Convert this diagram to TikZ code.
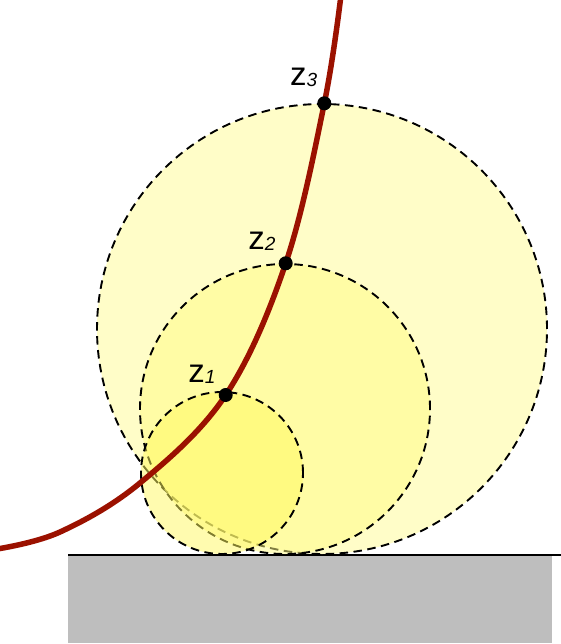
\documentclass[tikz,border=0pt]{standalone}
\usepackage{fontspec}
\newfontfamily\labelfont{Liberation Sans}
\usetikzlibrary{positioning}
\definecolor{curvered}{RGB}{155,17,0}
\definecolor{bigfill}{RGB}{255,251,145}
\definecolor{midfill}{RGB}{255,251,130}
\definecolor{smallfill}{RGB}{255,248,95}
\definecolor{groundgray}{RGB}{190,190,190}
\tikzset{disc/.style={circle, draw, dash pattern=on 8.5pt off 5.5pt, line width=1.9pt, inner sep=0pt, outer sep=0pt, fill opacity=0.5},
  dot/.style={circle, fill, inner sep=0pt, minimum size=14pt},
  zlabel/.style={anchor=base east, inner sep=0pt, font=\labelfont}}
\newcommand{\zname}[1]{{\fontsize{33}{33}\selectfont z}\raisebox{-1pt}{\fontsize{19}{19}\selectfont\itshape #1}}

\begin{document}
\begin{tikzpicture}[x=1pt, y=-1pt]
  \useasboundingbox (0,0) rectangle (561,644);
%% ground
  \fill[groundgray] (68,556) rectangle (552,643);
  \draw[line width=1.8pt] (68,555) -- (561,555);
%% circles
  \node[disc, fill=bigfill, minimum size=450pt] (big) at (322,329) {};
  \node[disc, fill=midfill, minimum size=290pt] (mid) at (285,409) {};
  \node[disc, fill=smallfill, minimum size=162pt] (small) at (222,473) {};
%% points on the curve
  \coordinate (z1) at (225.7,395);
  \coordinate (z2) at (285.7,263.3);
  \coordinate (z3) at (324.3,103.3);
%% curve
  \draw[curvered, line width=5.5pt] plot[smooth, tension=0.6] coordinates
    {(-3,549) (60,532) (140,483) (z1) (z2) (z3) (341,-5)};
%% dots and labels
  \node[dot] (d1) at (z1) {};
  \node[dot] (d2) at (z2) {};
  \node[dot] (d3) at (z3) {};
  \node[zlabel] (l1) at ([shift={(-10,-13)}]z1) {\zname{1}};
  \node[zlabel] (l2) at ([shift={(-10,-14)}]z2) {\zname{2}};
  \node[zlabel] (l3) at ([shift={(-7,-18)}]z3) {\zname{3}};
\end{tikzpicture}
\end{document}
